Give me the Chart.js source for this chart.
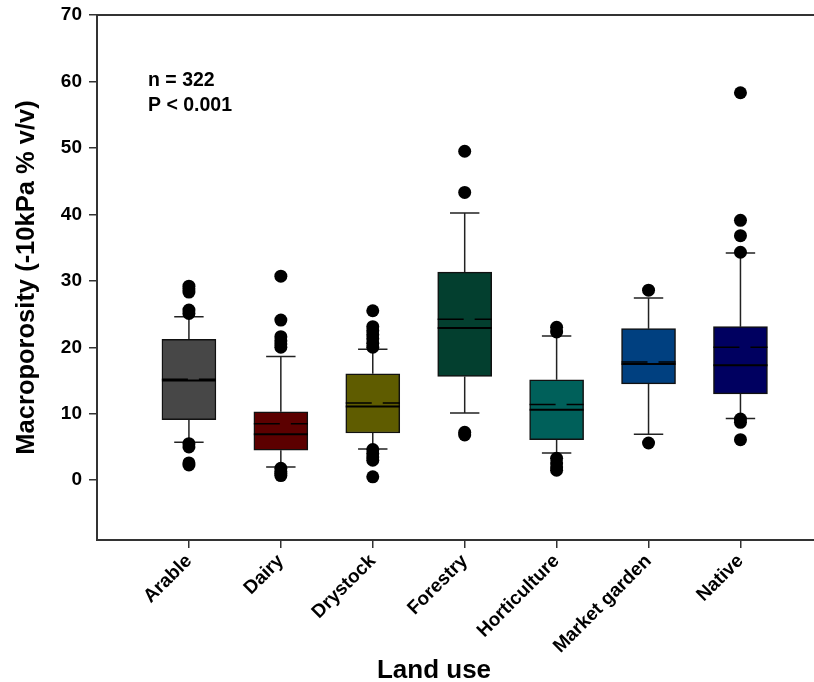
<!DOCTYPE html>
<html>
<head>
<meta charset="utf-8">
<script src="https://cdn.jsdelivr.net/npm/chart.js@4.4.1/dist/chart.umd.min.js"></script>
<style>
    html, body { margin: 0; padding: 0; background: #fff; }
    #wrap { width: 814px; height: 682px; }
</style>
</head>
<body>
<div id="wrap"><canvas id="boxChart"></canvas></div>
<script>
// Macroporosity by land use - box plot data
const landUses = ['Arable', 'Dairy', 'Drystock', 'Forestry', 'Horticulture', 'Market garden', 'Native'];
const q1 = [9.1, 4.5, 7.1, 15.6, 6.1, 14.5, 13.0];
const q3 = [21.2, 10.3, 16.0, 31.3, 15.1, 22.8, 23.1];
const medians = [15.0, 6.9, 11.1, 22.9, 10.6, 17.5, 17.3];
const means = [15.2, 8.5, 11.6, 24.2, 11.4, 17.8, 20.0];
const whiskerLow = [5.7, 2.0, 4.7, 10.1, 4.1, 6.9, 9.3];
const whiskerHigh = [24.6, 18.6, 19.7, 40.2, 21.7, 27.4, 34.2];
const outliers = [
    [29.2, 28.8, 28.3, 25.6, 25.1, 5.5, 5.0, 2.6, 2.3],
    [30.7, 24.1, 21.6, 21.0, 20.5, 20.0, 1.8, 1.3, 1.0, 0.7],
    [25.5, 23.1, 22.5, 21.9, 21.3, 20.6, 20.0, 4.6, 4.0, 3.5, 3.0, 0.5],
    [49.5, 43.3, 7.2, 6.8],
    [23.0, 22.3, 3.3, 2.6, 2.0, 1.5],
    [28.6, 5.6],
    [58.3, 39.1, 36.8, 34.3, 9.2, 8.7, 6.1]
];
const yTicks = [0, 10, 20, 30, 40, 50, 60, 70];
const boxColors = ['#474747', '#5c0000', '#5f5c00', '#033f2f', '#00605a', '#004080', '#000060'];

const BOX_HALF = 0.294;   // half box width in x units
const CAP_HALF = 0.16;    // half whisker cap width
const FONT = '"Liberation Sans", Arial, sans-serif';

// turn [x1, y1, x2, y2] pieces into one line dataset with gaps
function segments(list) {
    const out = [];
    list.forEach(s => {
        out.push({ x: s[0], y: s[1] }, { x: s[2], y: s[3] }, { x: s[2], y: null });
    });
    return out;
}

const whiskerSegs = [];
landUses.forEach((_, i) => {
    const x = i + 1;
    whiskerSegs.push([x, q3[i], x, whiskerHigh[i]]);
    whiskerSegs.push([x, q1[i], x, whiskerLow[i]]);
    whiskerSegs.push([x - CAP_HALF, whiskerHigh[i], x + CAP_HALF, whiskerHigh[i]]);
    whiskerSegs.push([x - CAP_HALF, whiskerLow[i], x + CAP_HALF, whiskerLow[i]]);
});
const medianSegs = medians.map((m, i) => [i + 1 - BOX_HALF, m, i + 1 + BOX_HALF, m]);
const meanSegs = means.map((m, i) => [i + 1 - BOX_HALF, m, i + 1 + BOX_HALF, m]);
const outlierPoints = [];
outliers.forEach((list, i) => list.forEach(v => outlierPoints.push({ x: i + 1, y: v })));

const extras = {
    id: 'extras',
    afterDraw(chart) {
        const { ctx, chartArea } = chart;
        ctx.save();
        ctx.strokeStyle = '#333';
        ctx.lineWidth = 2;
        ctx.beginPath();
        ctx.moveTo(chartArea.left, chartArea.top);
        ctx.lineTo(chartArea.right, chartArea.top);
        ctx.stroke();
        ctx.fillStyle = '#000';
        ctx.textBaseline = 'alphabetic';
        ctx.font = 'bold 19.5px ' + FONT;
        ctx.fillText('n = 322', 148, 86);
        ctx.fillText('P < 0.001', 148, 111);
        ctx.font = 'bold 26px ' + FONT;
        ctx.textAlign = 'center';
        ctx.fillText('Land use', 434, 678);
        ctx.restore();
    }
};

new Chart(document.getElementById('boxChart'), {
    type: 'bar',
    data: {
        datasets: [
            {
                type: 'scatter', data: outlierPoints, order: 0,
                pointRadius: 6.5, backgroundColor: '#000', borderWidth: 0
            },
            {
                type: 'line', data: segments(medianSegs), order: 1,
                borderColor: '#000', borderWidth: 2, pointRadius: 0, spanGaps: false
            },
            {
                type: 'line', data: segments(meanSegs), order: 1,
                borderColor: '#000', borderWidth: 1.5, borderDash: [26, 11], pointRadius: 0, spanGaps: false
            },
            {
                type: 'line', data: segments(whiskerSegs), order: 3,
                borderColor: '#222', borderWidth: 1.5, pointRadius: 0, spanGaps: false
            },
            {
                type: 'bar', order: 2,
                data: landUses.map((_, i) => ({ x: i + 1, y: [q1[i], q3[i]] })),
                backgroundColor: boxColors, borderColor: '#111', borderWidth: 1.5,
                borderSkipped: false, barThickness: 54
            }
        ]
    },
    options: {
        responsive: true,
        maintainAspectRatio: false,
        animation: false,
        layout: { autoPadding: false, padding: { top: 15, right: 0, left: 0, bottom: 0 } },
        plugins: { legend: { display: false }, tooltip: { enabled: false } },
        scales: {
            x: {
                type: 'linear', min: 0, max: 7.8, offset: false,
                afterBuildTicks: s => { s.ticks = landUses.map((_, i) => ({ value: i + 1 })); },
                afterFit: s => { s.height = 142; s.paddingLeft = 0; s.paddingRight = 0; },
                grid: { drawOnChartArea: false, offset: false, tickLength: 8, color: '#333', lineWidth: 1.5 },
                border: { display: true, color: '#333', width: 2 },
                ticks: {
                    callback: v => landUses[v - 1],
                    minRotation: 45, maxRotation: 45, autoSkip: false, padding: 2,
                    color: '#000', font: { family: FONT, size: 19, weight: 'bold' }
                }
            },
            y: {
                min: -9, max: 70,
                afterBuildTicks: s => { s.ticks = yTicks.map(v => ({ value: v })); },
                afterFit: s => { s.width = 97; s.paddingTop = 0; s.paddingBottom = 0; },
                grid: { drawOnChartArea: false, tickLength: 8, color: '#333', lineWidth: 1.5 },
                border: { display: true, color: '#333', width: 2 },
                ticks: { padding: 7, color: '#000', font: { family: FONT, size: 19, weight: 'bold' } },
                title: {
                    display: true, text: 'Macroporosity (-10kPa % v/v)', color: '#000',
                    font: { family: FONT, size: 25.5, weight: 'bold' }, padding: { top: 12, bottom: 0 }
                }
            }
        }
    },
    plugins: [extras]
});
</script>
</body>
</html>
